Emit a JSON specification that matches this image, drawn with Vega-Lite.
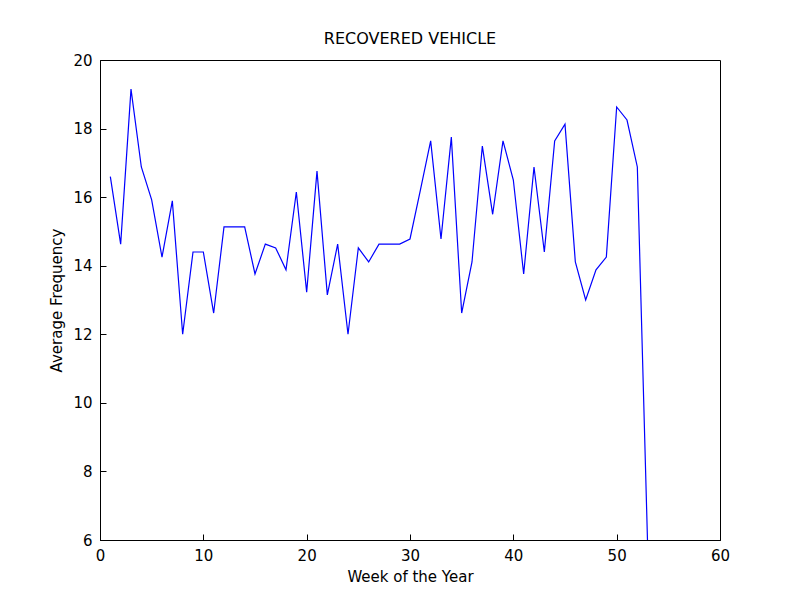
{
  "$schema": "https://vega.github.io/schema/vega-lite/v6.json",
  "width": 620,
  "height": 480,
  "autosize": {"type": "none"},
  "padding": {"left": 100, "top": 60, "right": 80, "bottom": 60},
  "background": "white",
  "title": {"text": "RECOVERED VEHICLE", "font": "DejaVu Sans", "fontSize": 16, "fontWeight": "normal", "color": "black", "offset": 6},
  "config": {
    "view": {"stroke": "black", "strokeWidth": 1},
    "axis": {"grid": false, "domainColor": "black", "tickColor": "black", "tickSize": -6, "labelFont": "DejaVu Sans", "labelFontSize": 15, "labelColor": "black", "titleFont": "DejaVu Sans", "titleFontSize": 15, "titleFontWeight": "normal", "titleColor": "black"},
    "axisX": {"labelAlign": "center", "labelBaseline": "top", "labelPadding": 14, "titlePadding": 6},
    "axisY": {"labelAlign": "right", "labelBaseline": "middle", "labelPadding": 14, "titlePadding": 8}
  },
  "data": {"values": [
    {"week": 1, "freq": 16.6}, {"week": 2, "freq": 14.63}, {"week": 3, "freq": 19.15}, {"week": 4, "freq": 16.88},
    {"week": 5, "freq": 15.92}, {"week": 6, "freq": 14.25}, {"week": 7, "freq": 15.89}, {"week": 8, "freq": 12.0},
    {"week": 9, "freq": 14.4}, {"week": 10, "freq": 14.4}, {"week": 11, "freq": 12.62}, {"week": 12, "freq": 15.13},
    {"week": 13, "freq": 15.13}, {"week": 14, "freq": 15.13}, {"week": 15, "freq": 13.76}, {"week": 16, "freq": 14.63},
    {"week": 17, "freq": 14.52}, {"week": 18, "freq": 13.88}, {"week": 19, "freq": 16.15}, {"week": 20, "freq": 13.23},
    {"week": 21, "freq": 16.76}, {"week": 22, "freq": 13.15}, {"week": 23, "freq": 14.63}, {"week": 24, "freq": 12.0},
    {"week": 25, "freq": 14.52}, {"week": 26, "freq": 14.11}, {"week": 27, "freq": 14.63}, {"week": 28, "freq": 14.63},
    {"week": 29, "freq": 14.63}, {"week": 30, "freq": 14.78}, {"week": 31, "freq": 16.2}, {"week": 32, "freq": 17.64},
    {"week": 33, "freq": 14.78}, {"week": 34, "freq": 17.75}, {"week": 35, "freq": 12.62}, {"week": 36, "freq": 14.11},
    {"week": 37, "freq": 17.49}, {"week": 38, "freq": 15.5}, {"week": 39, "freq": 17.64}, {"week": 40, "freq": 16.5},
    {"week": 41, "freq": 13.76}, {"week": 42, "freq": 16.88}, {"week": 43, "freq": 14.4}, {"week": 44, "freq": 17.64},
    {"week": 45, "freq": 18.13}, {"week": 46, "freq": 14.11}, {"week": 47, "freq": 13.0}, {"week": 48, "freq": 13.88},
    {"week": 49, "freq": 14.25}, {"week": 50, "freq": 18.63}, {"week": 51, "freq": 18.25}, {"week": 52, "freq": 16.88},
    {"week": 53, "freq": 5.8}
  ]},
  "mark": {"type": "line", "color": "#0000ff", "strokeWidth": 1.2, "clip": true},
  "encoding": {
    "x": {"field": "week", "type": "quantitative", "title": "Week of the Year", "scale": {"domain": [0, 60], "nice": false}, "axis": {"values": [0, 10, 20, 30, 40, 50, 60]}},
    "y": {"field": "freq", "type": "quantitative", "title": "Average Frequency", "scale": {"domain": [6, 20], "nice": false, "zero": false}, "axis": {"values": [6, 8, 10, 12, 14, 16, 18, 20]}}
  }
}
